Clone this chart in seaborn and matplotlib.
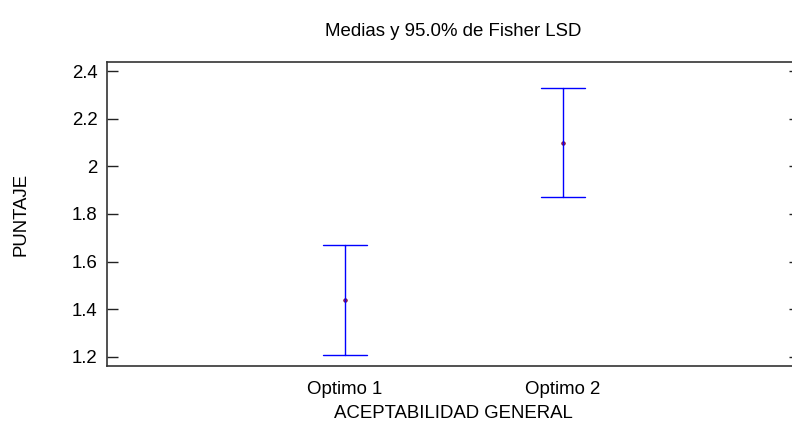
import matplotlib
matplotlib.use("Agg")
import matplotlib.pyplot as plt
import seaborn as sns
import pandas as pd

# Data
categories = ["Optimo 1", "Optimo 2"]
means = [1.44, 2.10]
lower = [1.21, 1.873]
upper = [1.67, 2.327]
yticks = [1.2, 1.4, 1.6, 1.8, 2.0, 2.2, 2.4]
ytick_labels = ["1.2", "1.4", "1.6", "1.8", "2", "2.2", "2.4"]

sns.set_theme(style="white")
plt.rcParams["font.family"] = ["Liberation Sans", "DejaVu Sans"]
plt.rcParams["text.color"] = "black"
plt.rcParams["axes.labelcolor"] = "black"
plt.rcParams["xtick.color"] = "black"
plt.rcParams["ytick.color"] = "black"

# long table: low / mean / high per category; median = mean, interval = min..max
rows = []
for c, m, lo, hi in zip(categories, means, lower, upper):
    for v in (lo, m, hi):
        rows.append({"grupo": c, "valor": v})
df = pd.DataFrame(rows)

FS = 13.4

fig = plt.figure(figsize=(7.92, 4.21), dpi=100)
ax = fig.add_axes([107 / 792, 55 / 421, (800 - 107) / 792, (366 - 62) / 421])

sns.pointplot(data=df, x="grupo", y="valor", estimator="median",
              errorbar=lambda x: (x.min(), x.max()),
              linestyle="none", color="#0000ff", capsize=0.2,
              err_kws={"linewidth": 1.0},
              marker="o", markersize=2.5, markerfacecolor="#cc2244",
              markeredgecolor="#660033", markeredgewidth=0.6, ax=ax)

ax.set_xlim(-1.092, 2.087)
ax.set_ylim(1.162, 2.438)
ax.set_yticks(yticks)
ax.set_yticklabels(ytick_labels, fontsize=FS)
ax.tick_params(axis="y", which="both", direction="in", length=8, width=1,
               left=True, right=True, colors="#222222", labelcolor="black", pad=7)
ax.tick_params(axis="x", bottom=False, labelsize=FS, pad=5, labelcolor="black")
for s in ["left", "top", "bottom"]:
    ax.spines[s].set_color("#333333")
    ax.spines[s].set_linewidth(1.2)
ax.spines["right"].set_visible(False)

ax.set_xlabel("ACEPTABILIDAD GENERAL", fontsize=FS, labelpad=5, color="black")
ax.set_ylabel("PUNTAJE", fontsize=FS, labelpad=30, color="black")
fig.text((107 + 792) / 2 / 792 + 0.005, 1 - 32 / 421, "Medias y 95.0% de Fisher LSD",
         ha="center", va="center", fontsize=FS, color="black")

fig.savefig("out.png", dpi=100)
